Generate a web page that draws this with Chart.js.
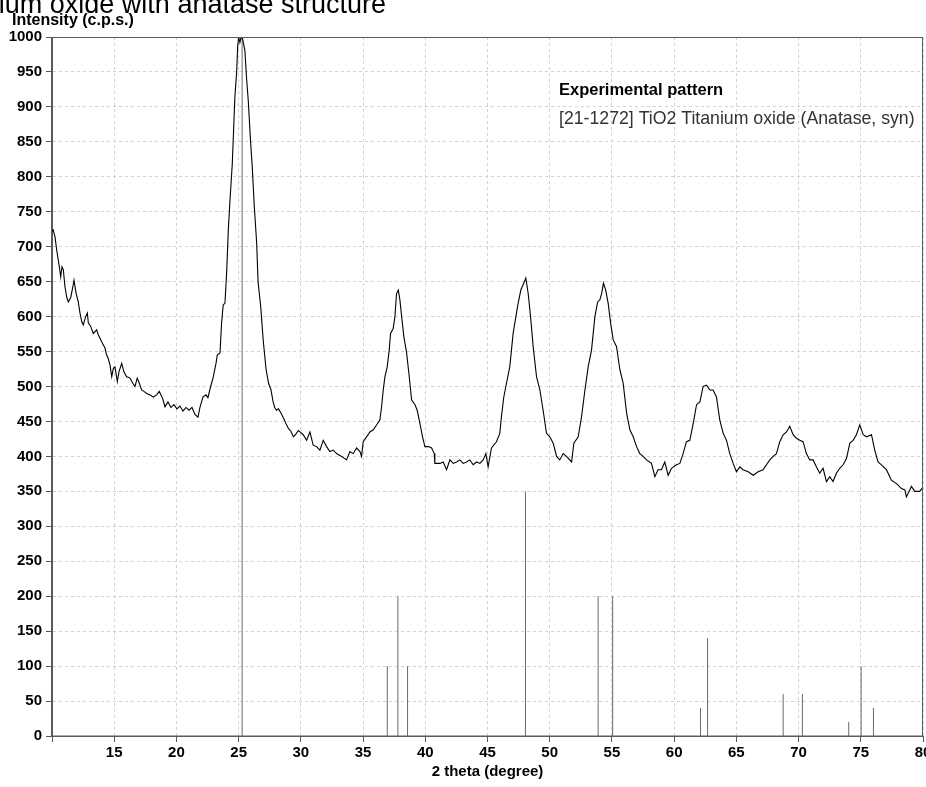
<!DOCTYPE html>
<html>
<head>
<meta charset="utf-8">
<script src="https://cdn.jsdelivr.net/npm/chart.js@4"></script>
<style>
html,body{margin:0;padding:0;background:#fff;}
canvas{display:block;}
</style>
</head>
<body>
<canvas id="c" width="926" height="787"></canvas>
<script>
const chartTitle = 'Titanium oxide with anatase structure';
const yAxisLabel = 'Intensity (c.p.s.)';
const xAxisLabel = '2 theta (degree)';
const seriesNames = ['Experimental pattern', '[21-1272] TiO2 Titanium oxide (Anatase, syn)'];

// Experimental pattern (2θ in degrees, intensity in c.p.s.)
const twoTheta = [
10.00,10.10,10.24,10.38,10.59,10.70,10.80,10.91,11.04,11.18,11.31,11.50,11.66,11.77,11.93,12.11,12.25,12.39,12.51,12.71,
12.84,12.92,13.11,13.32,13.59,13.72,13.99,14.26,14.39,14.52,14.66,14.80,14.93,15.06,15.25,15.38,15.60,15.78,16.00,16.27,
16.48,16.67,16.85,17.01,17.21,17.39,17.61,17.87,18.14,18.41,18.62,18.89,19.08,19.32,19.56,19.80,20.04,20.28,20.53,20.77,
21.01,21.25,21.49,21.73,21.89,22.13,22.37,22.53,22.75,22.94,23.18,23.28,23.50,23.63,23.76,23.90,24.04,24.17,24.30,24.49,
24.70,24.84,24.92,25.00,25.10,25.20,25.32,25.50,25.64,25.77,25.96,26.09,26.25,26.45,26.56,26.77,26.98,27.20,27.40,27.60,
27.77,27.90,28.04,28.20,28.40,28.60,28.80,29.00,29.20,29.40,29.60,29.80,29.93,30.19,30.46,30.73,30.99,31.26,31.53,31.80,
32.07,32.33,32.60,32.87,33.27,33.67,33.94,34.21,34.48,34.75,34.88,35.01,35.28,35.55,35.82,36.08,36.35,36.49,36.62,36.76,
36.94,37.10,37.21,37.42,37.56,37.69,37.83,37.96,38.10,38.28,38.50,38.71,38.90,39.17,39.35,39.57,39.78,39.97,40.24,40.51,
40.72,40.77,41.18,41.44,41.71,41.98,42.25,42.52,42.78,43.05,43.32,43.58,43.85,44.12,44.39,44.65,44.87,45.05,45.32,45.72,
45.99,46.12,46.31,46.53,46.79,47.06,47.28,47.46,47.68,47.92,48.08,48.27,48.46,48.67,48.94,49.21,49.47,49.74,50.01,50.28,
50.55,50.81,51.08,51.35,51.76,51.94,52.29,52.56,52.83,53.09,53.36,53.63,53.85,54.03,54.17,54.32,54.50,54.70,54.90,55.10,
55.37,55.64,55.90,56.18,56.44,56.71,56.98,57.24,57.51,57.78,58.18,58.45,58.71,58.98,59.25,59.52,59.79,60.19,60.46,60.72,
60.99,61.26,61.53,61.80,62.07,62.33,62.60,62.87,63.13,63.40,63.67,63.94,64.21,64.47,64.74,65.01,65.28,65.54,65.95,66.35,
66.75,67.15,67.42,67.69,67.95,68.22,68.49,68.76,69.03,69.29,69.56,69.83,70.10,70.36,70.63,70.90,71.17,71.44,71.70,71.97,
72.24,72.51,72.77,73.04,73.31,73.58,73.85,74.12,74.38,74.65,74.92,75.19,75.46,75.86,76.12,76.39,76.66,77.06,77.46,77.87,
78.27,78.54,78.67,79.07,79.34,79.74,80.00
];
const intensity = [
722,724,714,695,671,657,671,667,643,628,621,627,641,652,634,621,605,593,588,600,
605,591,586,576,581,574,564,555,545,540,531,514,526,528,507,521,533,521,514,512,
505,500,512,505,495,493,490,488,485,488,493,483,471,478,470,474,468,472,465,470,
466,470,460,456,470,485,488,484,500,512,533,545,548,591,617,619,665,724,765,819,
915,950,986,1000,992,1000,997,981,940,910,850,815,760,705,650,615,565,525,505,495,
478,470,466,468,462,455,447,440,436,428,432,437,435,431,423,435,416,414,409,423,
414,407,409,404,400,395,407,404,412,407,400,421,428,435,438,445,452,471,495,514,
528,552,576,583,600,633,638,624,600,571,548,514,481,474,466,447,428,414,414,412,
404,390,390,392,381,395,390,392,395,390,392,395,388,392,390,395,404,385,412,421,
433,457,485,505,528,576,600,619,638,648,655,633,600,557,514,495,466,433,428,419,
400,395,404,400,392,419,428,457,495,528,552,600,621,624,633,648,638,619,590,567,
557,524,505,462,438,428,414,404,400,395,390,371,381,381,392,373,383,388,390,404,
421,423,447,474,478,500,502,495,495,485,452,433,423,404,390,378,385,381,378,373,
378,381,388,395,400,404,421,431,435,443,431,426,423,421,404,395,395,385,376,383,
364,371,364,376,383,388,397,419,423,431,445,431,428,431,409,392,388,381,366,361,
354,352,342,357,350,350,356
];

// Reference pattern [21-1272] Anatase: line positions and relative intensities
const refTwoTheta   = [25.281, 36.946, 37.800, 38.575, 48.049, 53.890, 55.060, 62.119, 62.688, 68.760, 70.309, 74.029, 75.029, 76.017];
const refIntensity  = [1000,   100,    200,    100,    350,    200,    200,    40,     140,    60,     60,     20,     100,    40];

// Axis tick definitions
const xTickMin = 10, xTickMax = 80, xTickStep = 5;
const yTickMin = 0, yTickMax = 1000, yTickStep = 50;

const FONT = '"Liberation Sans", Arial, Helvetica, sans-serif';
Chart.defaults.font.family = FONT;

const curveData = twoTheta.map((t, i) => ({x: t, y: intensity[i]}));
const stickData = [];
refTwoTheta.forEach((t, i) => {
  stickData.push({x: t, y: 0}, {x: t, y: refIntensity[i]}, {x: t, y: null});
});

const overlay = {
  id: 'overlay',
  afterDraw(chart) {
    const {ctx, chartArea: a} = chart;
    ctx.save();
    // frame
    ctx.strokeStyle = '#5a5a5a';
    ctx.lineWidth = 1;
    ctx.setLineDash([]);
    ctx.strokeRect(Math.round(a.left) - 0.5, Math.round(a.top) + 0.5, Math.round(a.right - a.left), Math.round(a.bottom - a.top) - 0.5);
    // main title (partly outside the page, as in the original)
    ctx.fillStyle = '#000';
    ctx.font = '27px ' + FONT;
    ctx.textAlign = 'right';
    ctx.textBaseline = 'alphabetic';
    ctx.fillText(chartTitle, 386, 13);
    // y axis label
    ctx.font = 'bold 16px ' + FONT;
    ctx.textAlign = 'left';
    ctx.fillText(yAxisLabel, 12, 25);
    // legend texts
    ctx.font = 'bold 16.5px ' + FONT;
    ctx.fillStyle = '#000';
    ctx.fillText(seriesNames[0], 559, 95);
    ctx.font = '17.7px ' + FONT;
    ctx.fillStyle = '#333';
    ctx.fillText(seriesNames[1], 559, 124);
    ctx.restore();
  }
};

new Chart(document.getElementById('c'), {
  type: 'line',
  data: {
    datasets: [
      {
        label: seriesNames[0],
        data: curveData,
        borderColor: '#000',
        borderWidth: 1.1,
        pointRadius: 0,
        tension: 0,
        order: 1
      },
      {
        label: seriesNames[1],
        data: stickData,
        borderColor: '#6a6a6a',
        borderWidth: 1,
        pointRadius: 0,
        spanGaps: false,
        tension: 0,
        order: 2
      }
    ]
  },
  options: {
    responsive: false,
    animation: false,
    devicePixelRatio: 1,
    layout: {padding: {left: 0, top: 37, right: 3, bottom: 0}},
    plugins: {legend: {display: false}, tooltip: {enabled: false}, title: {display: false}},
    scales: {
      x: {
        type: 'linear',
        min: xTickMin, max: xTickMax,
        ticks: {
          stepSize: xTickStep, autoSkip: false, maxRotation: 0, color: '#000',
          font: {size: 15, weight: 'bold'}, padding: 2,
          callback: (v) => v === xTickMin ? '' : String(v)
        },
        grid: {color: '#d2d2d2', lineWidth: 1, drawTicks: true, tickLength: 6, tickColor: '#555', tickWidth: 1, borderDash: [3, 3]},
        border: {display: true, color: '#5a5a5a', width: 1, dash: [3, 3]},
        title: {display: true, text: xAxisLabel, color: '#000', font: {size: 15, weight: 'bold'}, padding: {top: 0, bottom: 6}},
        afterFit(s) { s.height = 51; s.paddingLeft = 0; s.paddingRight = 0; }
      },
      y: {
        type: 'linear',
        min: yTickMin, max: yTickMax,
        ticks: {stepSize: yTickStep, autoSkip: false, color: '#000', font: {size: 15, weight: 'bold'}, padding: 4,
          callback: (v) => String(v)},
        grid: {color: '#d2d2d2', lineWidth: 1, drawTicks: true, tickLength: 6, tickColor: '#555', tickWidth: 1, borderDash: [3, 3]},
        border: {display: true, color: '#5a5a5a', width: 1, dash: [3, 3]},
        afterFit(s) { s.width = 52; s.paddingTop = 0; s.paddingBottom = 0; }
      }
    }
  },
  plugins: [overlay]
});
</script>
</body>
</html>
